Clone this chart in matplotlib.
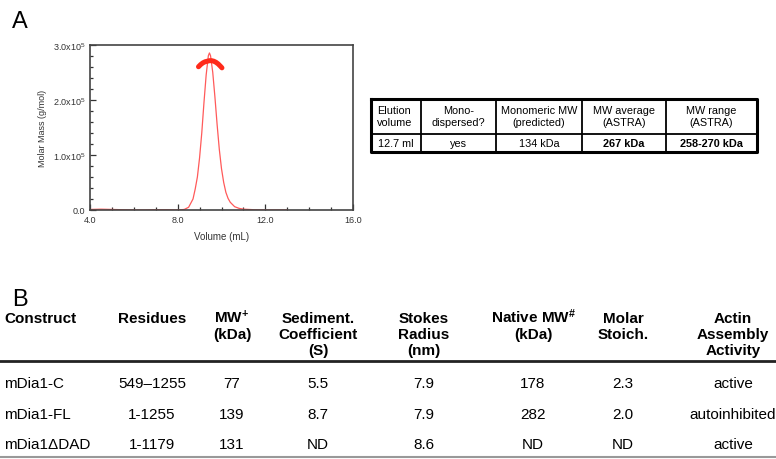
import matplotlib
matplotlib.use("Agg")
import matplotlib.pyplot as plt
from matplotlib.ticker import MultipleLocator

plt.rcParams['font.family'] = ['Liberation Sans', 'DejaVu Sans']
plt.rcParams['mathtext.fontset'] = 'custom'
plt.rcParams['mathtext.rm'] = 'Liberation Sans'
plt.rcParams['mathtext.bf'] = 'Liberation Sans:bold'
plt.rcParams['mathtext.default'] = 'regular'

# --- panel A: SEC-MALS trace (volume in mL, signal in 1e5 g/mol units)
volume = [4.0, 4.5, 5.0, 5.5, 6.0, 6.5, 7.0, 7.5, 8.0, 8.3, 8.5, 8.7, 8.8, 8.9,
          9.0, 9.1, 9.2, 9.3, 9.4, 9.45, 9.5, 9.6, 9.7, 9.8, 9.9, 10.0, 10.1,
          10.2, 10.3, 10.4, 10.6, 10.8, 11.0, 11.5, 12.0, 12.5, 13.0]
signal = [0.01, 0.015, 0.01, 0.005, 0.0, 0.0, 0.005, 0.005, 0.0, 0.01, 0.05,
          0.2, 0.38, 0.6, 0.95, 1.4, 1.95, 2.45, 2.8, 2.85, 2.8, 2.5, 2.05,
          1.55, 1.1, 0.75, 0.5, 0.32, 0.21, 0.14, 0.06, 0.03, 0.015, 0.005,
          0.0, 0.0, 0.0]
mass_volume = [8.95, 9.05, 9.15, 9.25, 9.35, 9.45, 9.55, 9.65, 9.75, 9.85, 9.95, 10.02]
molar_mass = [2.60, 2.64, 2.67, 2.69, 2.70, 2.71, 2.71, 2.70, 2.68, 2.65, 2.61, 2.58]
y_ticks = [0, 1, 2, 3]
y_ticklabels = ['0.0', '1.0x10$^{5}$', '2.0x10$^{5}$', '3.0x10$^{5}$']
x_ticks = [4, 8, 12, 16]
x_ticklabels = ['4.0', '8.0', '12.0', '16.0']

# --- panel A table
a_header = ["Elution\nvolume", "Mono-\ndispersed?", "Monomeric MW\n(predicted)",
            "MW average\n(ASTRA)", "MW range\n(ASTRA)"]
a_values = ["12.7 ml", "yes", "134 kDa", "267 kDa", "258-270 kDa"]
a_bold = [False, False, False, True, True]

# --- panel B table
b_header = ["Construct", "Residues", r"MW$^{\mathbf{+}}$" + "\n(kDa)",
            "Sediment.\nCoefficient\n(S)", "Stokes\nRadius\n(nm)",
            r"Native MW$^{\mathbf{\#}}$" + "\n(kDa)", "Molar\nStoich.",
            "Actin\nAssembly\nActivity"]
constructs = ["mDia1-C", "mDia1-FL", "mDia1\u0394DAD"]
residues = ["549\u20131255", "1-1255", "1-1179"]
mw = ["77", "139", "131"]
sediment = ["5.5", "8.7", "ND"]
stokes = ["7.9", "7.9", "8.6"]
native_mw = ["178", "282", "ND"]
stoich = ["2.3", "2.0", "ND"]
activity = ["active", "autoinhibited", "active"]

W, H = 776, 460
fig = plt.figure(figsize=(W / 100, H / 100), dpi=100)

# overlay in pixel coords for labels and tables
ov = fig.add_axes([0, 0, 1, 1])
ov.set_xlim(0, W)
ov.set_ylim(H, 0)
ov.axis('off')

ov.text(12, 28, "A", fontsize=17, va='baseline')
ov.text(12, 306, "B", fontsize=17, va='baseline')

# chromatogram
ax = fig.add_axes([90 / W, 1 - 211 / H, 263 / W, 165.3 / H])
ax.plot(volume, signal, color='#ff5a5a', lw=0.9)
ax.plot(mass_volume, molar_mass, color='#ff2a1a', lw=3.6, solid_capstyle='round')
ax.set_xlim(4, 16)
ax.set_ylim(0, 3)
ax.set_xticks(x_ticks)
ax.set_xticklabels(x_ticklabels)
ax.set_yticks(y_ticks)
ax.set_yticklabels(y_ticklabels)
ax.xaxis.set_minor_locator(MultipleLocator(1))
ax.yaxis.set_minor_locator(MultipleLocator(0.2))
ax.tick_params(which='both', direction='in', top=False, right=False,
               labelsize=6.5, colors='#333333', width=0.9)
ax.tick_params(which='major', length=4)
ax.tick_params(which='minor', length=2.5)
for s in ax.spines.values():
    s.set_color('#444444')
    s.set_linewidth(1.2)
ax.set_xlabel("Volume (mL)", fontsize=7, color='#333333', labelpad=5)
ax.set_ylabel("Molar Mass (g/mol)", fontsize=6.5, color='#333333', labelpad=4)

# table A
tx0, tx1, ty0, ty1, tmid = 371, 757, 100, 153, 135
col_edges = [371, 421, 496, 582, 666, 757]
ov.plot([tx0, tx1, tx1, tx0, tx0], [ty0, ty0, ty1, ty1, ty0], color='black', lw=2.2)
ov.plot([tx0, tx1], [tmid, tmid], color='black', lw=1.3)
for xe in col_edges[1:-1]:
    ov.plot([xe, xe], [ty0, ty1], color='black', lw=1.3)
for i, (h, v) in enumerate(zip(a_header, a_values)):
    if i == 0:
        hx, ha = col_edges[0] + 6, 'left'
    else:
        hx, ha = (col_edges[i] + col_edges[i + 1]) / 2, 'center'
    for k, line in enumerate(h.split("\n")):
        ov.text(hx, 114.5 + 11 * k, line, fontsize=7.8, ha=ha, va='baseline')
    vx = (col_edges[i] + col_edges[i + 1]) / 2
    ov.text(vx, 147, v, fontsize=7.8, ha='center', va='baseline',
            fontweight='bold' if a_bold[i] else 'normal')

# table B
col_x = [4, 152, 232, 318, 424, 533, 623, 733]
for i, h in enumerate(b_header):
    for k, line in enumerate(h.split("\n")):
        ov.text(col_x[i], 323.5 + 16 * k, line, fontsize=11, fontweight='bold',
                va='baseline', ha='left' if i == 0 else 'center')
ov.plot([0, W], [362, 362], color='#222222', lw=2.0)
ov.plot([0, W], [458, 458], color='#999999', lw=1.5)
rows = list(zip(constructs, residues, mw, sediment, stokes, native_mw, stoich, activity))
row_y = [384, 415, 445]
for r, y in zip(rows, row_y):
    for i, val in enumerate(r):
        ov.text(col_x[i], y, val, fontsize=11, va='center',
                ha='left' if i == 0 else 'center')

fig.savefig("out.png", dpi=100)
